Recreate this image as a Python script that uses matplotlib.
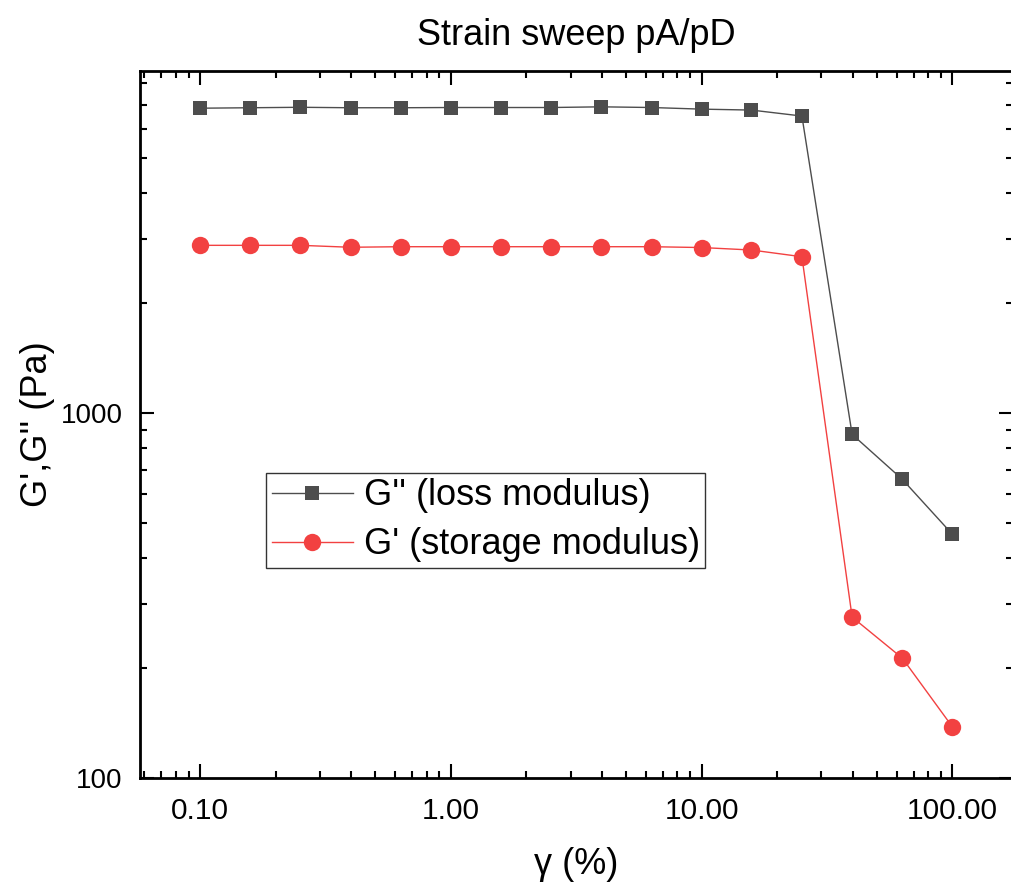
import matplotlib
matplotlib.use('Agg')

import matplotlib.pyplot as plt
import matplotlib.ticker as ticker

plt.rcParams['font.family'] = ['Liberation Sans', 'DejaVu Sans']

# strain (%) and moduli (Pa)
strain = [0.1, 0.158, 0.251, 0.398, 0.631, 1.0, 1.58, 2.51, 3.98, 6.31,
          10.0, 15.8, 25.1, 39.8, 63.1, 100.0]
g_loss = [6840, 6860, 6880, 6860, 6860, 6870, 6870, 6870, 6900, 6870,
          6800, 6760, 6510, 874, 658, 465]
g_storage = [2880, 2880, 2880, 2845, 2855, 2855, 2855, 2855, 2855, 2855,
             2840, 2796, 2680, 276, 213, 138]

x_ticks = [0.1, 1, 10, 100]
x_ticklabels = ['0.10', '1.00', '10.00', '100.00']
y_ticks = [100, 1000]
y_ticklabels = ['100', '1000']

fig = plt.figure(figsize=(10.12, 8.83), dpi=100)
ax = fig.add_axes([0.1383, 0.1189, 0.8625, 0.8007])

ax.plot(strain, g_loss, color='#4d4d4d', linewidth=1.0, marker='s',
        markersize=10.5, markeredgewidth=0, label="G'' (loss modulus)")
ax.plot(strain, g_storage, color='#f24141', linewidth=1.0, marker='o',
        markersize=12.5, markeredgewidth=0, label="G' (storage modulus)")

ax.set_xscale('log')
ax.set_yscale('log')
ax.set_xlim(0.0576, 174)
ax.set_ylim(100, 8650)

ax.xaxis.set_major_locator(ticker.FixedLocator(x_ticks))
ax.xaxis.set_major_formatter(ticker.FixedFormatter(x_ticklabels))
ax.xaxis.set_minor_locator(ticker.LogLocator(base=10, subs=range(2, 10)))
ax.xaxis.set_minor_formatter(ticker.NullFormatter())
ax.yaxis.set_major_locator(ticker.FixedLocator(y_ticks))
ax.yaxis.set_major_formatter(ticker.FixedFormatter(y_ticklabels))
ax.yaxis.set_minor_locator(ticker.LogLocator(base=10, subs=range(2, 10)))
ax.yaxis.set_minor_formatter(ticker.NullFormatter())

ax.tick_params(which='both', direction='in', top=True, right=True, width=1.5)
ax.tick_params(which='major', length=10)
ax.tick_params(which='minor', length=5)
ax.tick_params(axis='x', which='major', labelsize=21.5, pad=13.5)
ax.tick_params(axis='y', which='major', labelsize=20, pad=12.5)

for side in ['left', 'bottom', 'top', 'right']:
    ax.spines[side].set_linewidth(2)

ax.set_xlabel('γ (%)', fontsize=26, labelpad=16)
ax.set_ylabel("G',G'' (Pa)", fontsize=26, labelpad=4)
ax.set_title('Strain sweep pA/pD', fontsize=26, pad=19)

leg = ax.legend(loc='upper left', bbox_to_anchor=(0.1447, 0.4314), fontsize=26,
                frameon=True, fancybox=False, edgecolor='black',
                handlelength=2.25, handletextpad=0.3, borderpad=0.15,
                labelspacing=0.38, borderaxespad=0)
leg.get_frame().set_linewidth(1.0)

plt.savefig('out.png', dpi=100, facecolor='white')
plt.close()
